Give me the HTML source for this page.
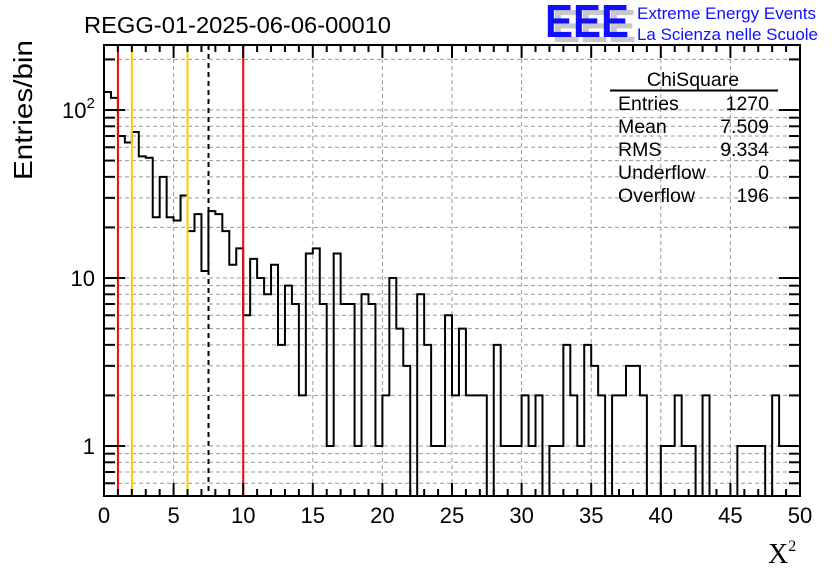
<!DOCTYPE html>
<html><head><meta charset="utf-8"><style>
body{margin:0;background:#fff;}
svg{display:block;font-family:"Liberation Sans",sans-serif;}
</style></head><body>
<svg id="chart" width="836" height="572" viewBox="0 0 836 572" xmlns="http://www.w3.org/2000/svg">
<rect width="836" height="572" fill="#fff"/>
<g id="grid"></g>
<g id="hist"></g>
<g id="ticks"></g>
<text x="84" y="33" font-size="23" textLength="307" lengthAdjust="spacingAndGlyphs">REGG-01-2025-06-06-00010</text>
<g>
<text x="552" y="42" font-size="46" font-weight="bold" fill="#c8c8c8" textLength="84" lengthAdjust="spacingAndGlyphs">EEE</text>
<text x="545" y="37" font-size="46" font-weight="bold" fill="#1010ff" textLength="84" lengthAdjust="spacingAndGlyphs">EEE</text>
<text x="637" y="19" font-size="17" fill="#1010ff" textLength="179" lengthAdjust="spacingAndGlyphs">Extreme Energy Events</text>
<text x="637" y="40" font-size="17" fill="#1010ff" textLength="181" lengthAdjust="spacingAndGlyphs">La Scienza nelle Scuole</text>
</g>
<g font-size="19.5">
<text x="693" y="86" text-anchor="middle">ChiSquare</text>
<line x1="610" y1="90.5" x2="778" y2="90.5" stroke="#000" stroke-width="2"/>
<text x="618" y="110">Entries</text><text x="769" y="110" text-anchor="end">1270</text>
<text x="618" y="133">Mean</text><text x="769" y="133" text-anchor="end">7.509</text>
<text x="618" y="156">RMS</text><text x="769" y="156" text-anchor="end">9.334</text>
<text x="618" y="179">Underflow</text><text x="769" y="179" text-anchor="end">0</text>
<text x="618" y="202">Overflow</text><text x="769" y="202" text-anchor="end">196</text>
</g>
<text transform="translate(32,110) rotate(-90)" text-anchor="middle" font-size="26" textLength="140" lengthAdjust="spacingAndGlyphs">Entries/bin</text>
<text x="768" y="563" font-size="28" font-family="Liberation Serif, serif">X<tspan font-size="16" dy="-12">2</tspan></text>
<g id="labels" font-size="22"></g>
</svg>
<script>
const binWidth = 0.5;
const counts = [128,118,70,64,74,53,52,23,40,23,22,31,19,24,11,25,24,19,12,15,
6,13,10,8,12,4,9,7,2,14,15,7,1,14,7,7,1,8,7,1,
2,10,5,3,0,8,4,1,1,6,2,5,2,2,2,0,4,1,1,1,
2,1,2,0,1,1,4,2,1,4,3,2,0,2,2,3,3,2,0,0,
1,1,2,1,1,0,2,0,0,0,0,1,1,1,1,0,2,1,1,1];
const xTicks = [0,5,10,15,20,25,30,35,40,45,50];
const redLines = [1,10];
const orangeLines = [2,6];
const meanLine = [7.509];
const X0=104,X1=800,Y0=45,Y1=496;
const xs = v => X0 + (v-0)/(50-0)*(X1-X0);
const ys = v => v<=0 ? Y1 : Math.min(Y1, 446 - 168*Math.log10(v));
const NS='http://www.w3.org/2000/svg';
function mk(tag, attrs, parent){const e=document.createElementNS(NS,tag);for(const k in attrs)e.setAttribute(k,attrs[k]);parent.appendChild(e);return e;}
const grid=document.getElementById('grid'), hist=document.getElementById('hist'), ticks=document.getElementById('ticks'), labels=document.getElementById('labels');
const gy=[];
for(const d of [0.1,1,10,100]) for(let m=1;m<=9;m++){const v=m*d;const y=ys(v);if(y>Y0&&y<Y1)gy.push(v);}
gy.forEach(v=>{const l=mk('line',{x1:X0,x2:X1,y1:ys(v),y2:ys(v),stroke:'#999','stroke-dasharray':'4,3','stroke-width':1},grid);

});
xTicks.slice(1,-1).forEach(v=>{const l=mk('line',{x1:xs(v),x2:xs(v),y1:Y0,y2:Y1,stroke:'#999','stroke-dasharray':'4,3','stroke-width':1},grid);

});
let d='M'+xs(0)+','+Y1;
counts.forEach((c,i)=>{const y=ys(c);d+=' L'+xs(i*binWidth)+','+y+' L'+xs((i+1)*binWidth)+','+y;});
d+=' L'+xs(50)+','+Y1;
const p=mk('path',{d:d,fill:'none',stroke:'#000','stroke-width':2},hist);


redLines.forEach(v=>{const l=mk('line',{x1:xs(v),x2:xs(v),y1:Y0,y2:Y1,stroke:'#f00','stroke-width':2},hist);

});
orangeLines.forEach(v=>{const l=mk('line',{x1:xs(v),x2:xs(v),y1:Y0,y2:Y1,stroke:'#fc0','stroke-width':2},hist);

});
meanLine.forEach(v=>{const l=mk('line',{x1:xs(v),x2:xs(v),y1:Y0,y2:Y1,stroke:'#000','stroke-width':2,'stroke-dasharray':'5,4'},hist);

});
const f=mk('rect',{x:X0,y:Y0,width:X1-X0,height:Y1-Y0,fill:'none',stroke:'#000','stroke-width':2},ticks);


for(let v=0;v<=50;v++){const len=v%5===0?13:7;const x=xs(v);
mk('line',{x1:x,x2:x,y1:Y1,y2:Y1-len,stroke:'#000','stroke-width':2},ticks);
mk('line',{x1:x,x2:x,y1:Y0,y2:Y0+len,stroke:'#000','stroke-width':2},ticks);}
xTicks.forEach(v=>{const t=mk('text',{x:xs(v),y:523,'text-anchor':'middle'},labels);t.textContent=v;

});
gy.forEach(v=>{const major=[1,10,100].includes(v);const len=major?21:11;const y=ys(v);
mk('line',{x1:X0,x2:X0+len,y1:y,y2:y,stroke:'#000','stroke-width':2},ticks);
mk('line',{x1:X1,x2:X1-len,y1:y,y2:y,stroke:'#000','stroke-width':2},ticks);});
const yl=[[1,'1'],[10,'10']];
yl.forEach(([v,s])=>{const t=mk('text',{x:95,y:ys(v)+8,'text-anchor':'end'},labels);t.textContent=s;

});
const t100=mk('text',{x:62,y:ys(100)+8},labels);t100.innerHTML='10<tspan font-size="15" dy="-10">2</tspan>';


</script>
</body></html>
